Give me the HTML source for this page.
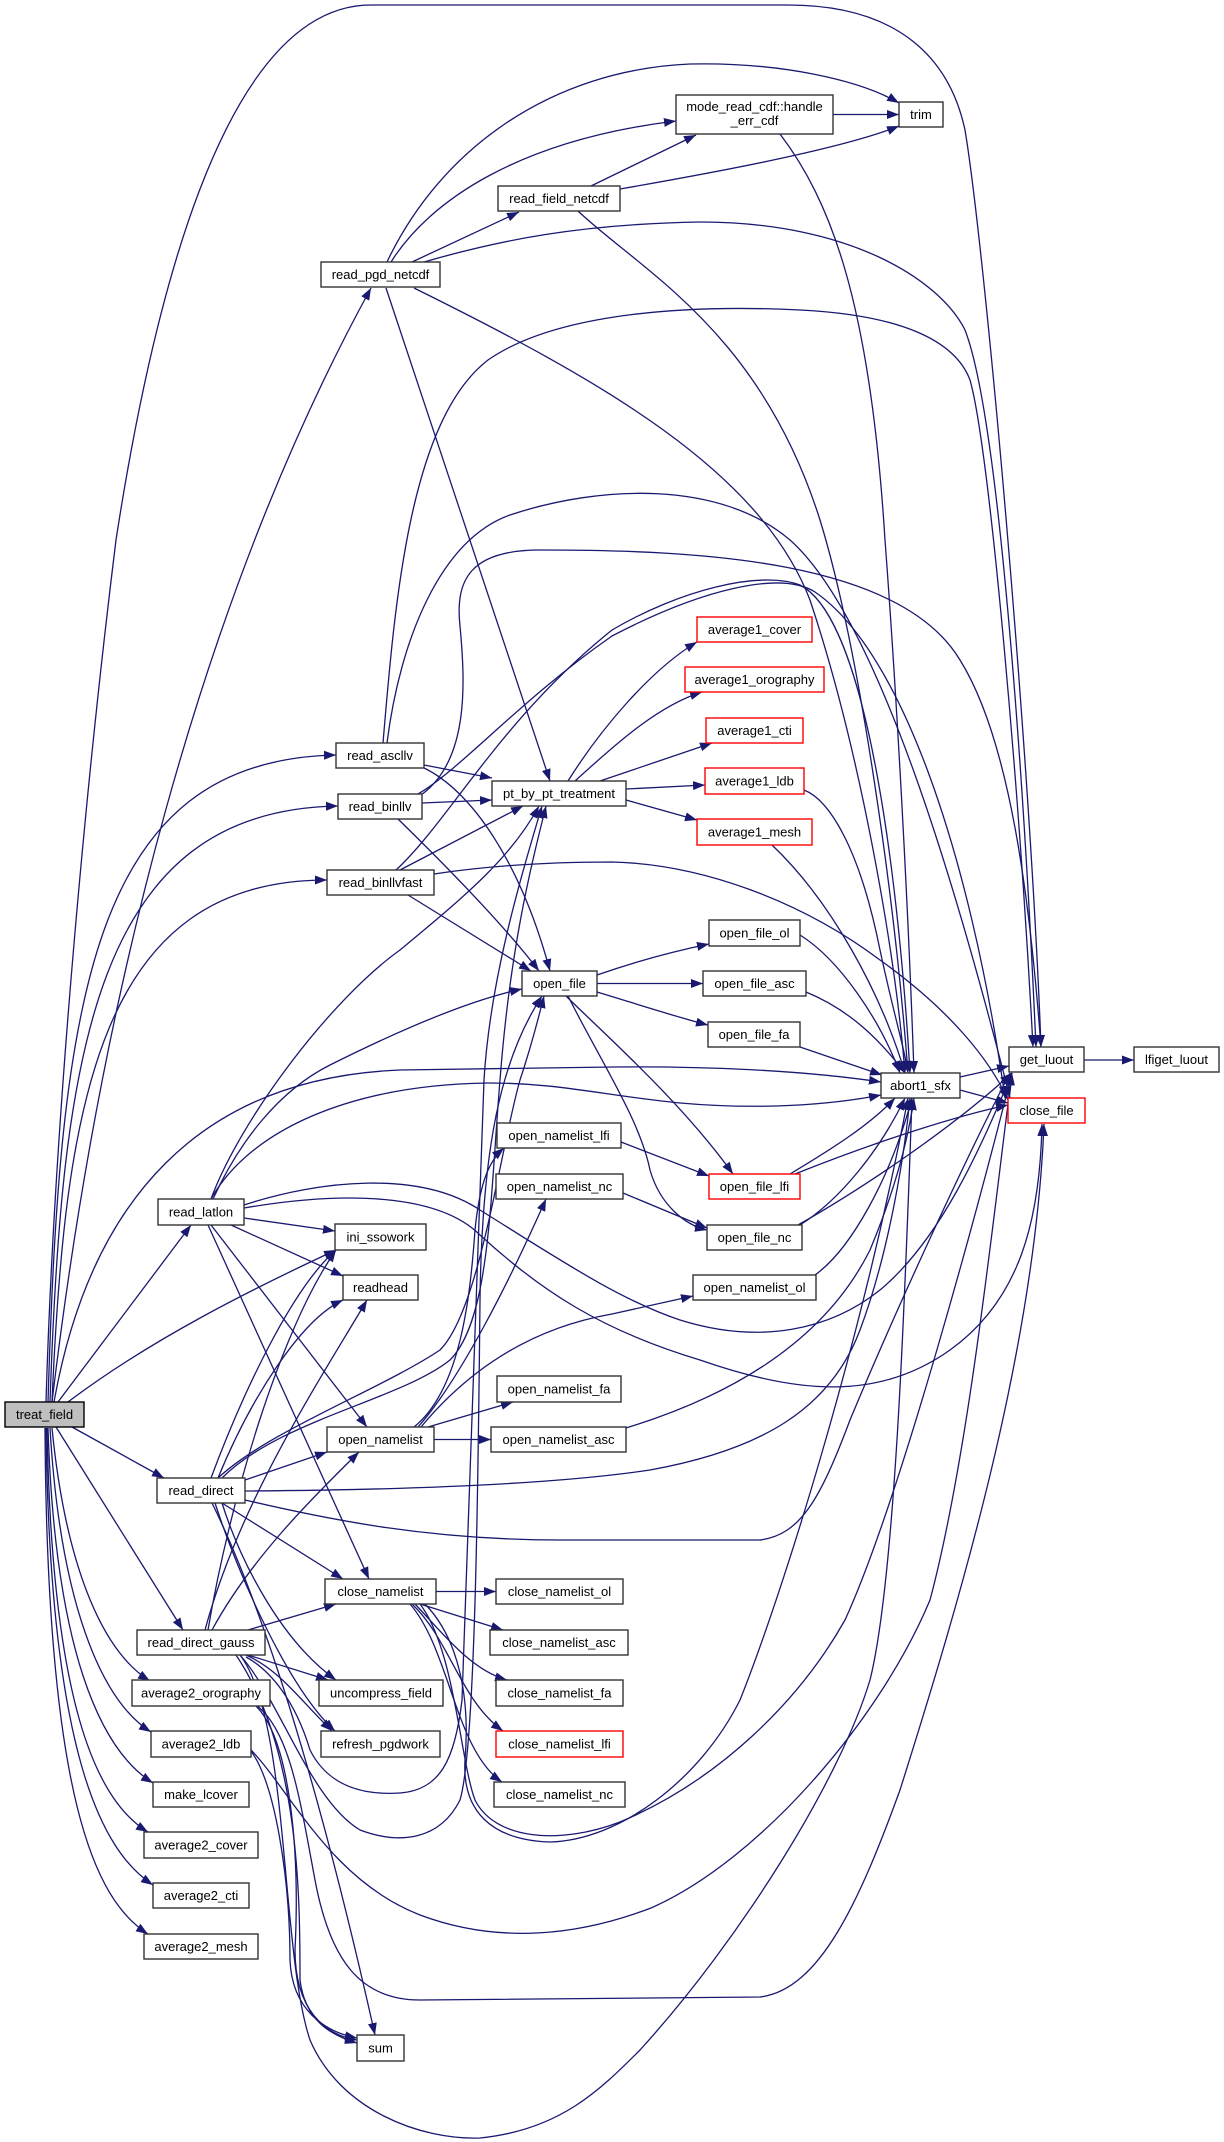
<!DOCTYPE html>
<html><head><meta charset="utf-8"><style>
html,body{margin:0;padding:0;background:#fff;}
svg{display:block;}
text{font-family:"Liberation Sans",Arial,sans-serif;font-size:13px;fill:#000;text-anchor:middle;}
.e{fill:none;stroke:#191970;stroke-width:1.3;marker-end:url(#a);}
.n{fill:#fff;stroke:#333;stroke-width:1.4;}
.r{fill:#fff;stroke:#ff0000;stroke-width:1.4;}
</style></head><body>
<svg width="1224" height="2142" viewBox="0 0 1224 2142" xmlns="http://www.w3.org/2000/svg">
<defs><marker id="a" markerWidth="13" markerHeight="10" refX="12" refY="4.5" orient="auto" markerUnits="userSpaceOnUse"><path d="M0,0 L12,4.5 L0,9 z" fill="#191970"/></marker></defs>
<g>
<path class="e" d="M46,1402 C55,1100 90,750 116,540 C150,320 220,5 371,5 L788,5 C900,5 950,60 965,130 C985,250 1030,750 1041,1047"/>
<path class="e" d="M52,1402 C100,1000 200,600 371,288"/>
<path class="e" d="M48,1402 C60,1000 90,760 336,755"/>
<path class="e" d="M50,1402 C62,1050 95,810 338,806"/>
<path class="e" d="M52,1402 C65,1100 100,880 327,880"/>
<path class="e" d="M54,1402 C90,1200 200,1078 400,1070 L612,1067 C700,1066 800,1070 881,1082"/>
<path class="e" d="M58,1402 L191,1225"/>
<path class="e" d="M68,1402 C150,1340 250,1290 336,1250"/>
<path class="e" d="M72,1427 L164,1478"/>
<path class="e" d="M56,1427 L183,1630"/>
<path class="e" d="M52,1428 C65,1560 100,1650 150,1681"/>
<path class="e" d="M50,1428 C60,1600 100,1700 151,1732"/>
<path class="e" d="M48,1428 C55,1650 100,1750 153,1783"/>
<path class="e" d="M47,1428 C52,1700 95,1800 148,1832"/>
<path class="e" d="M46,1428 C50,1750 100,1850 153,1885"/>
<path class="e" d="M45,1428 C47,1800 95,1900 148,1934"/>
<path class="e" d="M412,262 L519,212"/>
<path class="e" d="M391,262 C430,200 520,140 676,121"/>
<path class="e" d="M387,262 C440,150 550,70 690,64 C780,62 860,80 899,103"/>
<path class="e" d="M424,262 C500,240 580,224 700,222 C850,222 940,280 965,330 C1000,420 1025,800 1036,1047"/>
<path class="e" d="M386,288 L550,781"/>
<path class="e" d="M414,288 C600,380 760,470 810,600 C860,750 895,950 905,1073"/>
<path class="e" d="M591,186 L696,135"/>
<path class="e" d="M620,189 C700,175 840,150 899,126"/>
<path class="e" d="M578,211 C640,270 760,330 820,520 C860,650 895,900 908,1073"/>
<path class="e" d="M833,114.5 L899,114.5"/>
<path class="e" d="M780,134 C830,200 870,300 885,540 C897,700 908,900 914,1073"/>
<path class="e" d="M568,781 C600,730 650,670 697,642"/>
<path class="e" d="M575,781 C620,740 660,705 702,692"/>
<path class="e" d="M600,781 L712,743"/>
<path class="e" d="M626,789 L705,785"/>
<path class="e" d="M626,800 L697,820"/>
<path class="e" d="M424,765 L492,778"/>
<path class="e" d="M424,768 C470,790 520,860 550,971"/>
<path class="e" d="M383,743 C395,600 410,420 488,360 C560,310 700,305 800,310 C900,315 955,340 970,380 C990,450 1020,800 1033,1047"/>
<path class="e" d="M387,743 C400,640 440,540 510,515 C600,485 720,480 790,540 C880,620 960,900 1010,1098"/>
<path class="e" d="M422,803 L492,800"/>
<path class="e" d="M398,819 C440,860 500,920 539,971"/>
<path class="e" d="M421,795 C470,760 465,680 460,626 C455,580 470,550 540,550 C700,550 900,560 960,660 C1010,740 1030,900 1041,1047"/>
<path class="e" d="M418,794 C460,770 520,700 612,636 C700,590 780,570 815,592 C900,650 970,850 1005,1098"/>
<path class="e" d="M400,870 L523,806"/>
<path class="e" d="M408,895 L531,971"/>
<path class="e" d="M396,870 C450,820 500,720 612,630 C680,590 760,570 800,585 C870,620 900,900 910,1073"/>
<path class="e" d="M434,874 C500,864 560,862 612,862 C700,864 800,900 880,960 C950,1010 990,1060 1008,1100"/>
<path class="e" d="M597,975 C640,960 680,950 709,944"/>
<path class="e" d="M597,983.5 L703,983.5"/>
<path class="e" d="M597,992 C640,1005 680,1018 708,1025"/>
<path class="e" d="M566,996 C600,1030 680,1100 733,1174"/>
<path class="e" d="M568,996 C600,1060 640,1120 650,1170 C660,1205 685,1225 707,1230"/>
<path class="e" d="M800,935 C840,960 880,1020 900,1073"/>
<path class="e" d="M806,992 C850,1010 880,1040 905,1073"/>
<path class="e" d="M800,1047 L882,1075"/>
<path class="e" d="M790,1174 C830,1150 870,1125 895,1098"/>
<path class="e" d="M795,1174 C880,1140 960,1115 1008,1105"/>
<path class="e" d="M800,1225 C840,1200 880,1150 905,1098"/>
<path class="e" d="M798,1225 C860,1190 950,1130 1012,1073"/>
<path class="e" d="M815,1275 C850,1250 890,1180 912,1098"/>
<path class="e" d="M621,1142 L709,1176"/>
<path class="e" d="M623,1193 L707,1228"/>
<path class="e" d="M414,1427 C460,1390 470,1300 475,1230 C480,1180 490,1160 504,1148"/>
<path class="e" d="M418,1427 C460,1380 510,1280 546,1199"/>
<path class="e" d="M421,1427 C460,1380 520,1330 612,1314 L693,1296"/>
<path class="e" d="M428,1427 L513,1402"/>
<path class="e" d="M434,1439.5 L491,1439.5"/>
<path class="e" d="M626,1428 C750,1390 830,1330 870,1250 C895,1190 908,1140 914,1098"/>
<path class="e" d="M211,1199 C240,1120 330,1000 400,950 C460,900 510,860 539,806"/>
<path class="e" d="M213,1199 C240,1140 280,1090 330,1065 C400,1030 470,1000 522,989"/>
<path class="e" d="M211,1199 C250,1130 350,1085 488,1083 C560,1083 600,1095 680,1103 C760,1110 830,1105 881,1095"/>
<path class="e" d="M244,1218 L335,1231"/>
<path class="e" d="M231,1225 L343,1276"/>
<path class="e" d="M211,1225 L367,1427"/>
<path class="e" d="M208,1225 L369,1579"/>
<path class="e" d="M244,1205 C320,1180 420,1170 480,1210 C560,1260 620,1300 680,1320 C760,1345 830,1330 880,1290 C940,1240 980,1150 1012,1073"/>
<path class="e" d="M244,1208 C350,1190 440,1195 480,1235 C540,1290 600,1330 700,1360 C800,1395 880,1400 950,1350 C1020,1300 1040,1220 1042,1124"/>
<path class="e" d="M211,1478 C240,1400 290,1290 336,1250"/>
<path class="e" d="M218,1478 C250,1400 300,1320 343,1300"/>
<path class="e" d="M245,1480 L327,1452"/>
<path class="e" d="M222,1503 L343,1579"/>
<path class="e" d="M222,1478 C280,1420 400,1400 450,1360 C490,1320 490,1200 500,1080 C510,950 530,870 546,806"/>
<path class="e" d="M218,1478 C270,1430 380,1390 440,1350 C480,1310 500,1150 520,1080 C530,1050 538,1020 544,996"/>
<path class="e" d="M245,1491 C400,1490 550,1485 650,1470 C760,1450 830,1410 860,1330 C890,1250 905,1150 910,1098"/>
<path class="e" d="M245,1500 C330,1520 430,1540 560,1540 L760,1540 C800,1535 820,1500 850,1420 C900,1300 970,1150 1010,1073"/>
<path class="e" d="M222,1503 C240,1560 280,1640 336,1680"/>
<path class="e" d="M215,1503 C240,1580 290,1690 335,1731"/>
<path class="e" d="M212,1503 C240,1560 300,1700 375,2035"/>
<path class="e" d="M248,1630 L336,1604"/>
<path class="e" d="M212,1630 C250,1560 310,1500 359,1452"/>
<path class="e" d="M205,1630 C240,1500 320,1380 367,1300"/>
<path class="e" d="M208,1630 C230,1500 280,1330 336,1250"/>
<path class="e" d="M248,1655 L328,1680"/>
<path class="e" d="M246,1655 C280,1670 300,1700 332,1731"/>
<path class="e" d="M246,1657 C270,1670 295,1700 310,1750 C330,1790 370,1795 400,1793 C440,1790 455,1760 462,1700 C470,1500 478,1200 484,1080 C490,980 520,880 542,806"/>
<path class="e" d="M240,1655 C280,1700 310,1800 360,1830 C400,1845 440,1840 460,1800 C475,1750 478,1500 480,1300 C482,1150 500,1060 542,996"/>
<path class="e" d="M236,1655 C300,1750 300,1900 300,1980 C305,2020 330,2035 357,2043"/>
<path class="e" d="M256,1706 C290,1740 300,1850 295,1950 C295,2010 325,2035 357,2040"/>
<path class="e" d="M250,1750 C275,1780 290,1880 290,1960 C292,2010 325,2032 357,2038"/>
<path class="e" d="M256,1705 C290,1730 300,1800 315,1880 C330,1960 360,2000 420,2000 L760,1997 C820,1990 860,1900 900,1790 C960,1600 1035,1350 1044,1124"/>
<path class="e" d="M251,1750 C290,1790 330,1880 420,1915 C500,1945 580,1935 651,1908 C760,1860 880,1720 930,1600 C970,1450 995,1200 1012,1073"/>
<path class="e" d="M240,1655 C290,1720 280,1950 310,2040 C340,2110 420,2140 480,2138 C560,2130 600,2090 640,2050 C740,1940 840,1780 870,1680 C895,1580 905,1300 912,1098"/>
<path class="e" d="M436,1591.5 L496,1591.5"/>
<path class="e" d="M420,1604 L503,1630"/>
<path class="e" d="M415,1604 C440,1630 470,1670 507,1680"/>
<path class="e" d="M412,1604 C450,1640 460,1700 503,1731"/>
<path class="e" d="M410,1604 C450,1650 455,1750 502,1782"/>
<path class="e" d="M425,1604 C460,1640 470,1700 465,1760 C462,1810 490,1840 550,1842 C620,1840 700,1780 740,1700 C780,1600 860,1350 908,1098"/>
<path class="e" d="M420,1604 C455,1650 460,1760 475,1800 C495,1840 560,1845 620,1822 C720,1780 800,1700 845,1620 C900,1500 980,1200 1012,1073"/>
<path class="e" d="M1084,1060 L1134,1060"/>
<path class="e" d="M960,1090 L1008,1103"/>
<path class="e" d="M960,1077 L1009,1066"/>
<path class="e" d="M804,790 C830,800 860,850 880,950 C895,1020 905,1050 908,1073"/>
<path class="e" d="M772,845 C830,900 880,990 905,1073"/>
</g>
<g>
<rect x="5" y="1402" width="79" height="25" fill="#bfbfbf" stroke="#000" stroke-width="1.4"/><text x="44.5" y="1419">treat_field</text>
<rect class="n" x="321" y="262" width="119" height="25"/><text x="380.5" y="279">read_pgd_netcdf</text>
<rect class="n" x="498" y="186" width="122" height="25"/><text x="559" y="203">read_field_netcdf</text>
<rect class="n" x="676" y="95" width="157" height="39"/><text x="754.5" y="111">mode_read_cdf::handle</text><text x="754.5" y="125">_err_cdf</text>
<rect class="n" x="899" y="102" width="44" height="25"/><text x="921" y="119">trim</text>
<rect class="n" x="1009" y="1047" width="75" height="25"/><text x="1046.5" y="1064">get_luout</text>
<rect class="n" x="1134" y="1047" width="85" height="25"/><text x="1176.5" y="1064">lfiget_luout</text>
<rect class="n" x="881" y="1073" width="79" height="25"/><text x="920.5" y="1090">abort1_sfx</text>
<rect class="r" x="1008" y="1098" width="77" height="25"/><text x="1046.5" y="1115">close_file</text>
<rect class="n" x="336" y="743" width="88" height="25"/><text x="380" y="760">read_ascllv</text>
<rect class="n" x="338" y="794" width="84" height="25"/><text x="380" y="811">read_binllv</text>
<rect class="n" x="327" y="870" width="107" height="25"/><text x="380.5" y="887">read_binllvfast</text>
<rect class="n" x="492" y="781" width="134" height="25"/><text x="559" y="798">pt_by_pt_treatment</text>
<rect class="r" x="697" y="617" width="115" height="25"/><text x="754.5" y="634">average1_cover</text>
<rect class="r" x="685" y="667" width="139" height="25"/><text x="754.5" y="684">average1_orography</text>
<rect class="r" x="706" y="718" width="97" height="25"/><text x="754.5" y="735">average1_cti</text>
<rect class="r" x="705" y="768" width="99" height="26"/><text x="754.5" y="785.5">average1_ldb</text>
<rect class="r" x="697" y="819" width="115" height="26"/><text x="754.5" y="836.5">average1_mesh</text>
<rect class="n" x="522" y="971" width="75" height="25"/><text x="559.5" y="988">open_file</text>
<rect class="n" x="709" y="920" width="91" height="26"/><text x="754.5" y="937.5">open_file_ol</text>
<rect class="n" x="703" y="971" width="103" height="25"/><text x="754.5" y="988">open_file_asc</text>
<rect class="n" x="708" y="1022" width="92" height="25"/><text x="754" y="1039">open_file_fa</text>
<rect class="r" x="709" y="1174" width="91" height="25"/><text x="754.5" y="1191">open_file_lfi</text>
<rect class="n" x="707" y="1225" width="95" height="25"/><text x="754.5" y="1242">open_file_nc</text>
<rect class="n" x="497" y="1123" width="124" height="25"/><text x="559" y="1140">open_namelist_lfi</text>
<rect class="n" x="496" y="1174" width="127" height="25"/><text x="559.5" y="1191">open_namelist_nc</text>
<rect class="n" x="693" y="1275" width="123" height="25"/><text x="754.5" y="1292">open_namelist_ol</text>
<rect class="n" x="497" y="1376" width="124" height="26"/><text x="559" y="1393.5">open_namelist_fa</text>
<rect class="n" x="491" y="1427" width="135" height="25"/><text x="558.5" y="1444">open_namelist_asc</text>
<rect class="n" x="158" y="1199" width="86" height="26"/><text x="201" y="1216.5">read_latlon</text>
<rect class="n" x="335" y="1224" width="91" height="26"/><text x="380.5" y="1241.5">ini_ssowork</text>
<rect class="n" x="343" y="1275" width="75" height="25"/><text x="380.5" y="1292">readhead</text>
<rect class="n" x="327" y="1427" width="107" height="25"/><text x="380.5" y="1444">open_namelist</text>
<rect class="n" x="157" y="1478" width="88" height="25"/><text x="201" y="1495">read_direct</text>
<rect class="n" x="325" y="1579" width="111" height="25"/><text x="380.5" y="1596">close_namelist</text>
<rect class="n" x="496" y="1579" width="127" height="25"/><text x="559.5" y="1596">close_namelist_ol</text>
<rect class="n" x="490" y="1630" width="138" height="25"/><text x="559" y="1647">close_namelist_asc</text>
<rect class="n" x="496" y="1680" width="127" height="26"/><text x="559.5" y="1697.5">close_namelist_fa</text>
<rect class="r" x="496" y="1731" width="127" height="26"/><text x="559.5" y="1748.5">close_namelist_lfi</text>
<rect class="n" x="494" y="1782" width="131" height="25"/><text x="559.5" y="1799">close_namelist_nc</text>
<rect class="n" x="137" y="1630" width="128" height="25"/><text x="201" y="1647">read_direct_gauss</text>
<rect class="n" x="132" y="1680" width="138" height="26"/><text x="201" y="1697.5">average2_orography</text>
<rect class="n" x="151" y="1731" width="100" height="26"/><text x="201" y="1748.5">average2_ldb</text>
<rect class="n" x="153" y="1782" width="96" height="25"/><text x="201" y="1799">make_lcover</text>
<rect class="n" x="144" y="1832" width="114" height="26"/><text x="201" y="1849.5">average2_cover</text>
<rect class="n" x="153" y="1883" width="96" height="25"/><text x="201" y="1900">average2_cti</text>
<rect class="n" x="144" y="1934" width="114" height="25"/><text x="201" y="1951">average2_mesh</text>
<rect class="n" x="319" y="1680" width="124" height="26"/><text x="381" y="1697.5">uncompress_field</text>
<rect class="n" x="321" y="1731" width="119" height="26"/><text x="380.5" y="1748.5">refresh_pgdwork</text>
<rect class="n" x="357" y="2035" width="47" height="26"/><text x="380.5" y="2052.5">sum</text>
</g>
</svg>
</body></html>
